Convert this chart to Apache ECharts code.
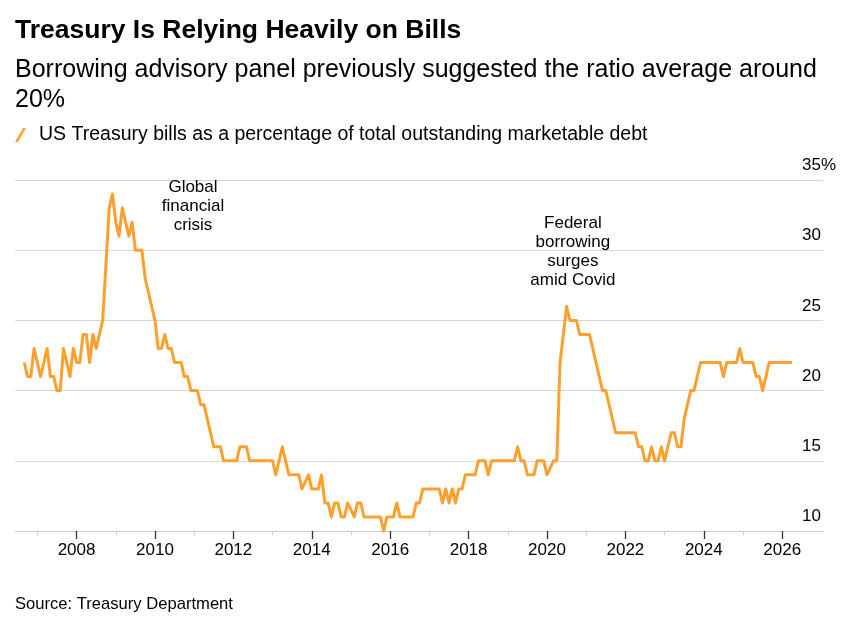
<!DOCTYPE html>
<html>
<head>
<meta charset="utf-8">
<title>Treasury Is Relying Heavily on Bills</title>
<script src="https://cdn.jsdelivr.net/npm/echarts@6.0.0/dist/echarts.min.js"></script>
<style>
  html, body { margin: 0; padding: 0; background: #fff; }
  #chart { width: 854px; height: 634px; }
</style>
</head>
<body>
<div id="chart"></div>
<script>
// month-end readings, only the turning points of the line
var dates = [
  '2006-08','2006-09','2006-10','2006-11','2007-01','2007-03','2007-04','2007-05','2007-06','2007-07',
  '2007-08','2007-10','2007-11','2007-12','2008-01','2008-02','2008-03','2008-04','2008-05','2008-06',
  '2008-08','2008-10','2008-11','2008-12','2009-01','2009-02','2009-04','2009-05','2009-06','2009-08',
  '2009-09','2009-12','2010-01','2010-02','2010-03','2010-04','2010-05','2010-06','2010-08','2010-09',
  '2010-10','2010-11','2011-01','2011-02','2011-03','2011-06','2011-08','2011-09','2012-01','2012-02',
  '2012-04','2012-05','2012-12','2013-01','2013-03','2013-05','2013-08','2013-09','2013-11','2013-12',
  '2014-02','2014-03','2014-04','2014-05','2014-06','2014-07','2014-08','2014-09','2014-10','2014-11',
  '2015-01','2015-02','2015-03','2015-04','2015-09','2015-10','2015-11','2016-01','2016-02','2016-03',
  '2016-07','2016-08','2016-09','2016-10','2017-03','2017-04','2017-05','2017-06','2017-07','2017-08',
  '2017-09','2017-10','2017-11','2018-02','2018-03','2018-05','2018-06','2018-07','2019-02','2019-03',
  '2019-04','2019-05','2019-06','2019-08','2019-09','2019-11','2019-12','2020-02','2020-03','2020-04',
  '2020-06','2020-07','2020-09','2020-10','2021-01','2021-05','2021-06','2021-09','2022-03','2022-04',
  '2022-05','2022-06','2022-07','2022-08','2022-09','2022-10','2022-11','2022-12','2023-02','2023-03',
  '2023-04','2023-05','2023-06','2023-08','2023-09','2023-11','2024-05','2024-06','2024-07','2024-10',
  '2024-11','2024-12','2025-03','2025-04','2025-05','2025-06','2025-08','2026-03'
];
var billShare = [
  22,21,21,23,21,23,21,21,20,20,
  23,21,23,22,22,24,24,22,24,23,
  25,33,34,32,31,33,31,32,30,30,
  28,25,23,23,24,23,23,22,22,21,
  21,20,20,19,19,16,16,15,15,16,
  16,15,15,14,16,14,14,13,14,13,
  13,14,12,12,11,12,12,11,11,12,
  11,12,12,11,11,10,11,11,12,11,
  11,12,12,13,13,12,13,12,13,12,
  13,13,14,14,15,15,14,15,15,16,
  15,15,14,14,15,15,14,15,15,22,
  26,25,25,24,24,20,20,17,17,16,
  16,15,15,16,15,15,16,15,17,17,
  16,16,18,20,20,22,22,21,22,22,
  23,22,22,21,21,20,22,22
];
var evenYears = [2008, 2010, 2012, 2014, 2016, 2018, 2020, 2022, 2024, 2026];
var oddYears = [2007, 2009, 2011, 2013, 2015, 2017, 2019, 2021, 2023, 2025];

function toYear(d) {
  var p = d.split('-');
  return +p[0] + (+p[1]) / 12;
}

var orange = '#ffa02e';
var font = "'Liberation Sans', Arial, sans-serif";

var myChart = echarts.init(document.getElementById('chart'));

var option = {
  animation: false,
  textStyle: { fontFamily: font },
  title: [
    {
      text: 'Treasury Is Relying Heavily on Bills',
      left: 10, top: 12,
      textStyle: { fontFamily: font, fontSize: 26.5, fontWeight: 'bold', color: '#000' }
    },
    {
      text: 'Borrowing advisory panel previously suggested the ratio average around\n20%',
      left: 10, top: 50,
      textStyle: { fontFamily: font, fontSize: 25, fontWeight: 'normal', lineHeight: 30, color: '#000' }
    },
    {
      text: 'Source: Treasury Department',
      left: 10, top: 591,
      textStyle: { fontFamily: font, fontSize: 16.6, fontWeight: 'normal', color: '#000' }
    }
  ],
  legend: {
    left: 10, top: 120,
    icon: 'path://M0,14 L8,0 L11,0 L3,14 Z',
    itemWidth: 11, itemHeight: 14, itemGap: 8,
    textStyle: { fontFamily: font, fontSize: 19.5, color: '#000', padding: [0, 0, 0, 8] },
    data: ['US Treasury bills as a percentage of total outstanding marketable debt']
  },
  grid: { left: 15, right: 31, top: 180, bottom: 103, containLabel: false },
  xAxis: [
    {
      type: 'value',
      min: 2006.43, max: 2027.04,
      axisLine: { lineStyle: { color: '#cccccc', width: 1 } },
      axisTick: { customValues: evenYears, length: 8, lineStyle: { color: '#333', width: 1.3 } },
      axisLabel: {
        customValues: evenYears, margin: 11,
        fontSize: 17, color: '#000', fontFamily: font,
        formatter: function (v) { return String(v); }
      },
      splitLine: { show: false }
    },
    {
      type: 'value', position: 'bottom',
      min: 2006.43, max: 2027.04,
      axisLine: { show: false },
      axisTick: { customValues: oddYears, length: 4, lineStyle: { color: '#cccccc', width: 1 } },
      axisLabel: { show: false },
      splitLine: { show: false }
    }
  ],
  yAxis: {
    type: 'value', position: 'right',
    min: 10, max: 35, interval: 5,
    axisLine: { show: false },
    axisTick: { show: false },
    splitLine: { lineStyle: { color: '#d6d6d6', width: 1 } },
    axisLabel: {
      inside: true, align: 'left', verticalAlign: 'bottom',
      margin: 21, padding: [0, 0, 6, 0],
      fontSize: 17, color: '#000', fontFamily: font,
      formatter: function (v) { return v === 35 ? '35%' : String(v); }
    }
  },
  series: [
    {
      name: 'US Treasury bills as a percentage of total outstanding marketable debt',
      type: 'line',
      xAxisIndex: 0,
      color: orange,
      showSymbol: false,
      lineStyle: { color: orange, width: 3, join: 'round' },
      data: dates.map(function (d, i) { return [toYear(d), billShare[i]]; }),
      markPoint: {
        silent: true,
        symbol: 'circle', symbolSize: 0,
        label: {
          show: true, position: 'inside', align: 'center', verticalAlign: 'middle',
          fontFamily: font, fontSize: 17, lineHeight: 19, color: '#000'
        },
        data: [
          { coord: [2010.97, 33.15], label: { formatter: 'Global\nfinancial\ncrisis' } },
          { coord: [2020.66, 29.9], label: { formatter: 'Federal\nborrowing\nsurges\namid Covid' } }
        ]
      }
    }
  ]
};

myChart.setOption(option);
</script>
</body>
</html>
